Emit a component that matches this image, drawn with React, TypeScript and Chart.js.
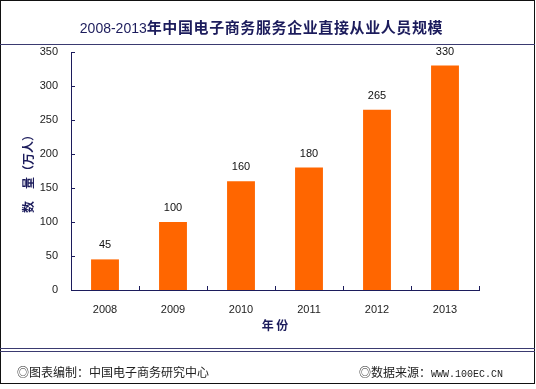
import React, { useEffect, useRef } from "react";
import { Chart, registerables } from "chart.js";

Chart.register(...registerables);

const years = ["2008", "2009", "2010", "2011", "2012", "2013"];
const staff = [45, 100, 160, 180, 265, 330];
const yTicks = [0, 50, 100, 150, 200, 250, 300, 350];

const titleNum = "2008-2013";
const titleText = "年中国电子商务服务企业直接从业人员规模";
const yTitle = "数　量（万人）";
const xTitle = "年 份";
const footLeft = "◎图表编制：中国电子商务研究中心";
const footRightCn = "◎数据来源：";
const footRightUrl = "WWW.100EC.CN";

const NAVY = "#1c1c5c";
const LINE = "#3a3a70";
const BAR = "#FF6600";
const TXT = "#222222";
const NUMFONT = "'Liberation Sans', Arial, sans-serif";
const CJK = "'Noto Sans CJK SC', sans-serif";

export default function App() {
  const ref = useRef<HTMLCanvasElement>(null);

  useEffect(() => {
    if (!ref.current) return;
    const innerTicks = {
      id: "innerTicks",
      afterDatasetsDraw(chart: any) {
        const { ctx, chartArea, scales } = chart;
        const xs = scales.x;
        const ys = scales.y;
        ctx.save();
        ctx.strokeStyle = NAVY;
        ctx.lineWidth = 1;
        ctx.beginPath();
        for (const v of yTicks) {
          const py = Math.round(ys.getPixelForValue(v)) + 0.5;
          ctx.moveTo(chartArea.left, py);
          ctx.lineTo(chartArea.left + 4, py);
        }
        for (let i = 0; i <= years.length; i++) {
          const px = Math.round(xs.getPixelForValue(i - 0.5)) + 0.5;
          ctx.moveTo(px, chartArea.bottom);
          ctx.lineTo(px, chartArea.bottom - 4);
        }
        ctx.stroke();
        // value labels
        const meta = chart.getDatasetMeta(0);
        ctx.fillStyle = "#111";
        ctx.font = `11px ${NUMFONT}`;
        ctx.textAlign = "center";
        ctx.textBaseline = "middle";
        meta.data.forEach((bar: any, i: number) => {
          ctx.fillText(String(staff[i]), bar.x, bar.y - 14);
        });
        ctx.restore();
      },
    };

    const chart = new Chart(ref.current, {
      type: "bar",
      data: {
        labels: years,
        datasets: [
          {
            data: staff,
            backgroundColor: BAR,
            borderWidth: 0,
            barPercentage: 0.41,
            categoryPercentage: 1,
          },
        ],
      },
      options: {
        responsive: false,
        animation: false,
        devicePixelRatio: 1,
        layout: { padding: { left: 0, top: 52, right: 57, bottom: 56 } },
        plugins: {
          legend: { display: false },
          tooltip: { enabled: false },
          title: { display: false },
        },
        scales: {
          x: {
            grid: { display: false, drawTicks: false },
            border: { display: true, color: NAVY, width: 1 },
            ticks: { color: TXT, font: { size: 11, family: NUMFONT }, padding: 13, maxRotation: 0 },
            title: {
              display: true,
              text: xTitle,
              color: NAVY,
              font: { size: 12, weight: "bold", family: CJK },
              padding: { top: 0, bottom: 0 },
            },
            afterFit(scale: any) {
              scale.height = 43;
            },
          },
          y: {
            min: 0,
            max: 350,
            grid: { display: false, drawTicks: false },
            border: { display: true, color: NAVY, width: 1 },
            ticks: {
              stepSize: 50,
              color: TXT,
              font: { size: 11, family: NUMFONT },
              padding: 13,
            },
            title: {
              display: true,
              text: yTitle,
              color: NAVY,
              font: { size: 12, weight: "bold", family: CJK },
              padding: { top: 21, bottom: 0 },
            },
            afterFit(scale: any) {
              scale.width = 71;
            },
          },
        },
      },
      plugins: [innerTicks],
    });
    return () => chart.destroy();
  }, []);

  return (
    <div style={{ position: "absolute", left: 0, top: 0, width: 536, height: 389, background: "#fff" }}>
      <canvas ref={ref} width={536} height={389} style={{ position: "absolute", left: 0, top: 0, width: 536, height: 389 }} />
      <div
        style={{
          position: "absolute",
          left: 0,
          top: 0,
          width: 535,
          height: 384,
          boxSizing: "border-box",
          border: "1px solid #111",
          pointerEvents: "none",
        }}
      />
      <div style={{ position: "absolute", left: 0, top: 44, width: 535, height: 1, background: LINE }} />
      <div style={{ position: "absolute", left: 0, top: 348, width: 535, height: 1, background: LINE }} />
      <div style={{ position: "absolute", left: 0, top: 351, width: 535, height: 1, background: LINE }} />
      <div
        style={{
          position: "absolute",
          left: 0,
          top: 13,
          width: 523,
          height: 28,
          lineHeight: "28px",
          textAlign: "center",
          color: NAVY,
          whiteSpace: "nowrap",
        }}
      >
        <span style={{ fontFamily: NUMFONT, fontSize: 14, fontWeight: "normal" }}>{titleNum}</span>
        <span style={{ fontFamily: CJK, fontSize: 15, fontWeight: "bold", letterSpacing: 0.6 }}>{titleText}</span>
      </div>
      <div
        style={{
          position: "absolute",
          left: 17,
          top: 363,
          height: 18,
          lineHeight: "18px",
          fontFamily: CJK,
          fontSize: 12,
          color: "#222",
          whiteSpace: "nowrap",
        }}
      >
        {footLeft}
      </div>
      <div
        style={{
          position: "absolute",
          right: 536 - 503,
          top: 363,
          height: 18,
          lineHeight: "18px",
          fontFamily: CJK,
          fontSize: 12,
          color: "#222",
          whiteSpace: "nowrap",
        }}
      >
        {footRightCn}
        <span style={{ fontFamily: "'Liberation Mono', monospace", fontSize: 10 }}>{footRightUrl}</span>
      </div>
    </div>
  );
}
